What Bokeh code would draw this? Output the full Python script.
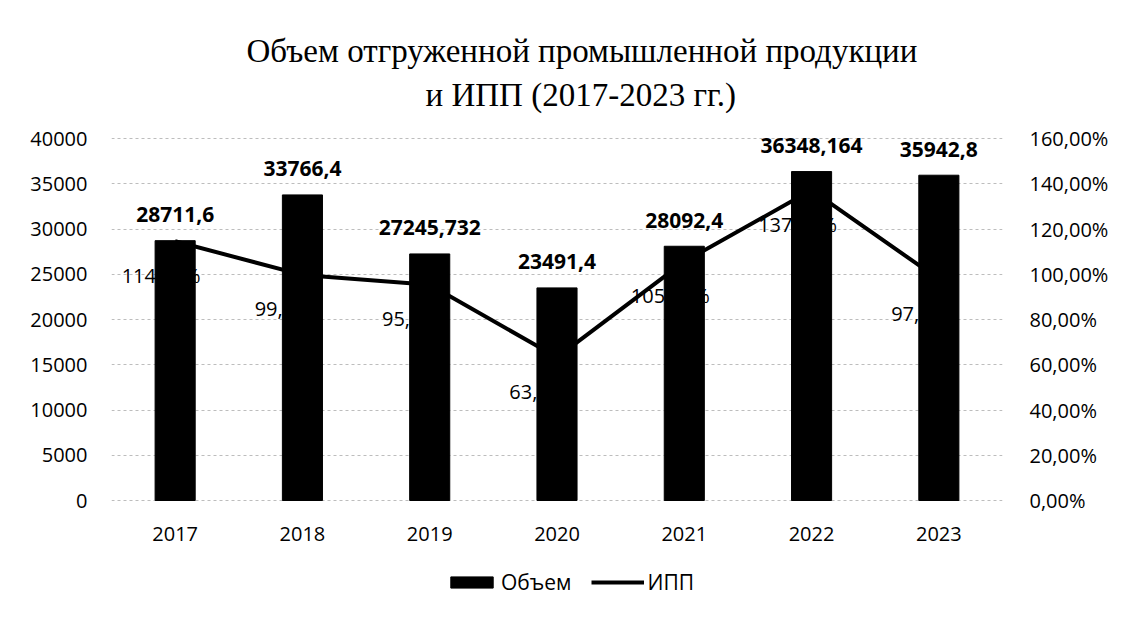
from bokeh.plotting import figure
from bokeh.models import (FactorRange, Range1d, LinearAxis, ColumnDataSource, LabelSet,
                          Legend, LegendItem, Title, CustomJSTickFormatter, FixedTicker)
from bokeh.core.properties import value
from bokeh.embed import file_html
from bokeh.resources import INLINE

years = ["2017", "2018", "2019", "2020", "2021", "2022", "2023"]
volume = [28711.6, 33766.4, 27245.732, 23491.4, 28092.4, 36348.164, 35942.8]
ipp = [114.60, 99.70, 95.40, 63.30, 105.60, 137.20, 97.80]
left_ticks = [0, 5000, 10000, 15000, 20000, 25000, 30000, 35000, 40000]
right_ticks = [0, 20, 40, 60, 80, 100, 120, 140, 160]

title_line1 = "Объем отгруженной промышленной продукции"
title_line2 = "и ИПП (2017-2023 гг.)"

FONT = "Open Sans"
SERIF = "Liberation Serif"

# layout: the value axis spans 362 px; the frame extends a bit above it
# and further below it, where the category labels and the legend live
AXIS_PX = 362
ABOVE_PX = 18
BELOW_PX = 112
L_MAX, R_MAX = left_ticks[-1], right_ticks[-1]

volume_labels = [str(v).replace(".", ",") for v in volume]
ipp_labels = [f"{v:.2f}".replace(".", ",") + "%" for v in ipp]

src = ColumnDataSource(dict(year=years, volume=volume, ipp=ipp,
                            vlabel=volume_labels, plabel=ipp_labels))

p = figure(x_range=FactorRange(*years),
           y_range=Range1d(-L_MAX * BELOW_PX / AXIS_PX, L_MAX * (1 + ABOVE_PX / AXIS_PX)),
           frame_width=891, frame_height=AXIS_PX + ABOVE_PX + BELOW_PX,
           min_border_left=111, min_border_right=113,
           min_border_top=138 - ABOVE_PX, min_border_bottom=10,
           output_backend="svg", toolbar_location=None, title=None,
           outline_line_color=None, background_fill_color="white",
           border_fill_color="white")
p.extra_y_ranges = {"pct": Range1d(-R_MAX * BELOW_PX / AXIS_PX,
                                   R_MAX * (1 + ABOVE_PX / AXIS_PX))}

# grid
p.xgrid.visible = False
p.ygrid.ticker = FixedTicker(ticks=left_ticks)
p.ygrid.grid_line_color = "#bdbdbd"
p.ygrid.grid_line_dash = "3 3"
p.ygrid.grid_line_width = 1

bars = p.vbar(x="year", top="volume", width=0.315, source=src,
              fill_color="black", line_color="black")
line = p.line(x="year", y="ipp", source=src, y_range_name="pct",
              line_color="black", line_width=4)

def style_axis(ax, standoff):
    ax.axis_line_color = None
    ax.major_tick_line_color = None
    ax.minor_tick_line_color = None
    ax.major_label_text_font = FONT
    ax.major_label_text_font_size = "20px"
    ax.major_label_text_color = "black"
    ax.major_label_standoff = standoff

yl = p.yaxis[0]
yl.ticker = FixedTicker(ticks=left_ticks)
yl.formatter = CustomJSTickFormatter(code="return tick.toFixed(0);")
style_axis(yl, 18)

yr = LinearAxis(y_range_name="pct", ticker=FixedTicker(ticks=right_ticks),
                formatter=CustomJSTickFormatter(
                    code="return tick.toFixed(2).replace('.', ',') + '%';"))
style_axis(yr, 21)
p.add_layout(yr, "right")

xa = p.xaxis[0]
style_axis(xa, 20)
xa.fixed_location = 0

# data labels
vl = LabelSet(x="year", y="volume", text="vlabel", source=src,
              text_align="center", text_baseline="middle", y_offset=26,
              text_font=value(FONT), text_font_size=value("21px"),
              text_font_style=value("bold"), text_color=value("black"))
pl = LabelSet(x="year", y="ipp", text="plabel", source=src, y_range_name="pct",
              text_align="center", text_baseline="middle", x_offset=-14, y_offset=-34,
              text_font=value(FONT), text_font_size=value("20px"),
              text_color=value("black"))
p.add_layout(vl)
p.add_layout(pl)

# legend under the category labels
legend = Legend(items=[LegendItem(label="Объем", renderers=[bars]),
                       LegendItem(label="ИПП", renderers=[line])],
                orientation="horizontal", location=(334, 16),
                glyph_width=53, glyph_height=14, label_standoff=3, spacing=20,
                label_text_font=FONT, label_text_font_size="21px",
                label_text_color="black", border_line_color=None,
                background_fill_alpha=0, margin=0, padding=0)
p.add_layout(legend)

# title (two lines)
t2 = Title(text=title_line2, align="left", text_font=SERIF,
           text_font_size="33px", text_font_style="normal", text_color="black",
           standoff=16, offset=314)
t1 = Title(text=title_line1, align="left", text_font=SERIF,
           text_font_size="33px", text_font_style="normal", text_color="black",
           standoff=-4, offset=135)
p.add_layout(t2, "above")
p.add_layout(t1, "above")

open("out.html", "w").write(file_html(p, INLINE))
